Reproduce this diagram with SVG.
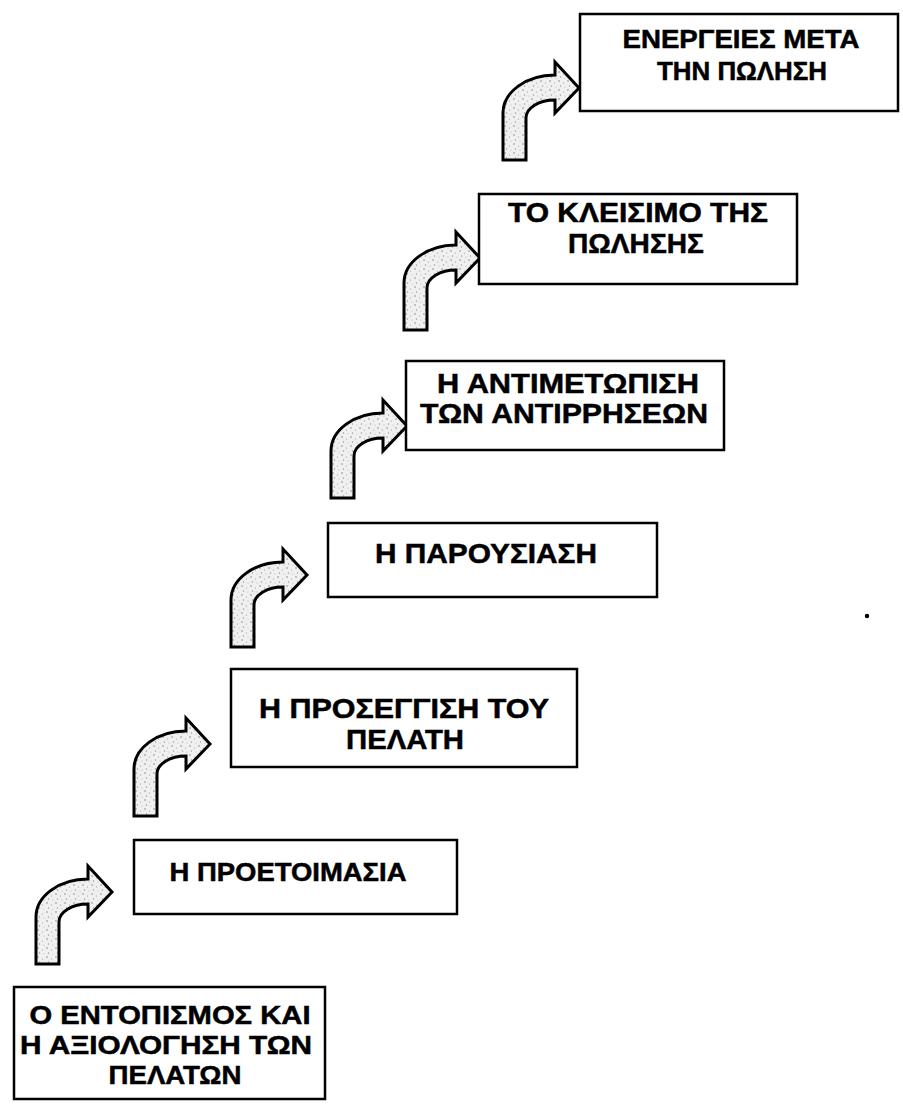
<svg xmlns="http://www.w3.org/2000/svg" width="903" height="1104" viewBox="0 0 903 1104">
<style>
.box{fill:#fff;stroke:#000;stroke-width:2.5}
.arrow{fill:url(#stipple);stroke:#000;stroke-width:3;stroke-linejoin:miter}
.t{font-family:"Liberation Sans",Arial,sans-serif;font-weight:bold;font-size:26px;fill:#000;stroke:#000;stroke-width:0.5;text-anchor:middle}
.b{font-size:28px}
</style>
<defs>
<pattern id="stipple" width="9" height="9" patternUnits="userSpaceOnUse">
<rect width="9" height="9" fill="#f0f0f0"/>
<circle cx="2" cy="2" r="0.8" fill="#888"/>
<circle cx="6.5" cy="4" r="0.6" fill="#999"/>
<circle cx="3.5" cy="7" r="0.7" fill="#999"/>
<circle cx="8" cy="8" r="0.5" fill="#aaa"/>
</pattern>
<path id="bent" d="M0,0 V-47 A52,38 0 0 1 52,-85 V-98 L76,-72 L52,-47 V-60 A29,18 0 0 0 23,-42 V0 Z"/>
</defs>
<g id="connectors">
<use href="#bent" class="arrow" transform="translate(36,964)"/>
<use href="#bent" class="arrow" transform="translate(134,816)"/>
<use href="#bent" class="arrow" transform="translate(231,647)"/>
<use href="#bent" class="arrow" transform="translate(331,498)"/>
<use href="#bent" class="arrow" transform="translate(404,330)"/>
<use href="#bent" class="arrow" transform="translate(503,160)"/>
</g>
<g id="n1">
<rect class="box" x="14" y="987" width="311" height="112"/>
<text class="t" x="170" y="1024" textLength="281" lengthAdjust="spacingAndGlyphs">Ο ΕΝΤΟΠΙΣΜΟΣ ΚΑΙ</text>
<text class="t" x="166" y="1054" textLength="292" lengthAdjust="spacingAndGlyphs">Η ΑΞΙΟΛΟΓΗΣΗ ΤΩΝ</text>
<text class="t" x="175" y="1084" textLength="133" lengthAdjust="spacingAndGlyphs">ΠΕΛΑΤΩΝ</text>
</g>
<g id="n2">
<rect class="box" x="134" y="840" width="323" height="74"/>
<text class="t" x="288" y="881" textLength="237" lengthAdjust="spacingAndGlyphs">Η ΠΡΟΕΤΟΙΜΑΣΙΑ</text>
</g>
<g id="n3">
<rect class="box" x="231" y="669" width="346" height="98"/>
<text class="t b" x="404" y="718" textLength="290" lengthAdjust="spacingAndGlyphs">Η ΠΡΟΣΕΓΓΙΣΗ ΤΟΥ</text>
<text class="t b" x="405" y="749" textLength="118" lengthAdjust="spacingAndGlyphs">ΠΕΛΑΤΗ</text>
</g>
<g id="n4">
<rect class="box" x="328" y="523" width="329" height="74"/>
<text class="t b" x="486" y="563" textLength="222" lengthAdjust="spacingAndGlyphs">Η ΠΑΡΟΥΣΙΑΣΗ</text>
</g>
<g id="n5">
<rect class="box" x="406" y="361" width="318" height="89"/>
<text class="t b" x="568" y="393" textLength="262" lengthAdjust="spacingAndGlyphs">Η ΑΝΤΙΜΕΤΩΠΙΣΗ</text>
<text class="t b" x="564" y="423" textLength="288" lengthAdjust="spacingAndGlyphs">ΤΩΝ ΑΝΤΙΡΡΗΣΕΩΝ</text>
</g>
<g id="n6">
<rect class="box" x="479" y="194" width="318" height="90"/>
<text class="t b" x="638" y="222" textLength="260" lengthAdjust="spacingAndGlyphs">ΤΟ ΚΛΕΙΣΙΜΟ ΤΗΣ</text>
<text class="t b" x="636" y="253" textLength="136" lengthAdjust="spacingAndGlyphs">ΠΩΛΗΣΗΣ</text>
</g>
<g id="n7">
<rect class="box" x="580" y="14" width="318" height="97"/>
<text class="t" x="741" y="48" textLength="237" lengthAdjust="spacingAndGlyphs">ΕΝΕΡΓΕΙΕΣ ΜΕΤΑ</text>
<text class="t" x="742" y="80" textLength="170" lengthAdjust="spacingAndGlyphs">ΤΗΝ ΠΩΛΗΣΗ</text>
</g>
<circle cx="867" cy="616" r="2.2" fill="#000"/>
</svg>
